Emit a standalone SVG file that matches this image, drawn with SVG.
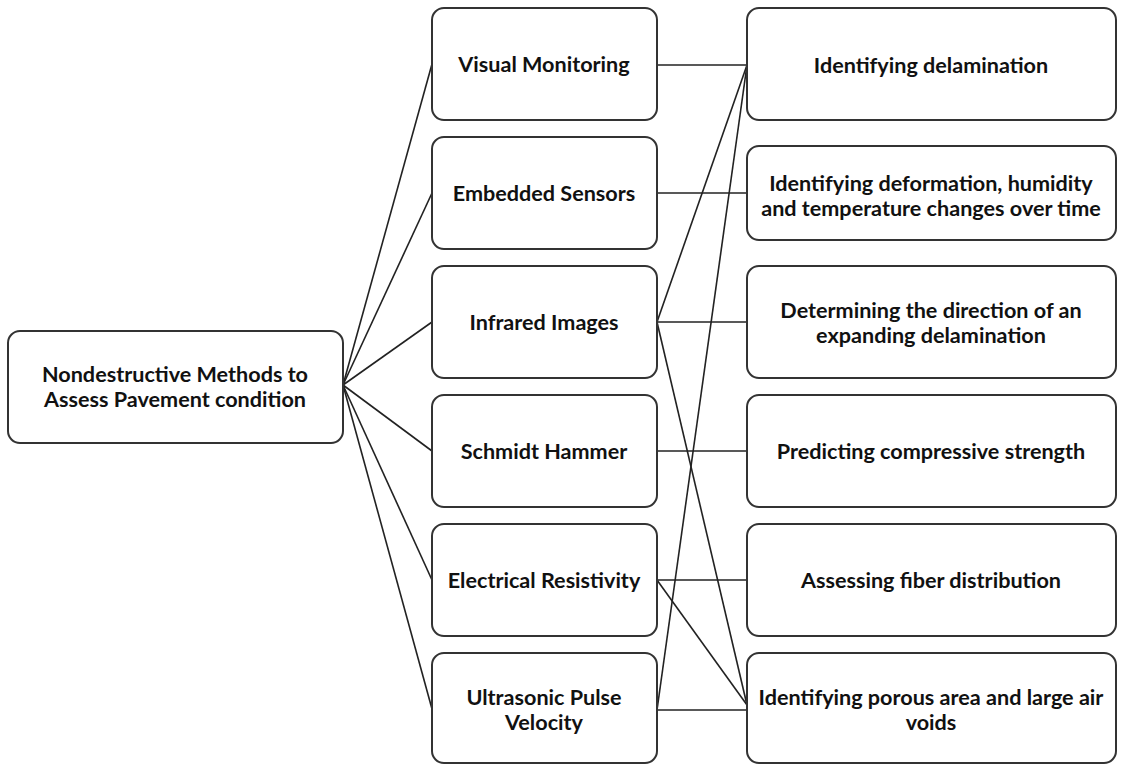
<svg xmlns="http://www.w3.org/2000/svg" width="1122" height="764" viewBox="0 0 1122 764">
<style>
.box{fill:#fff;stroke:#333;stroke-width:2}
.t{font-family:Lato,"Liberation Sans",sans-serif;font-weight:bold;font-size:21.6px;fill:#111;text-anchor:middle}
.c{stroke:#222;stroke-width:1.6;fill:none}
</style>
<rect width="1122" height="764" fill="#fff"/>
<g id="connectors">
<line class="c" x1="343" y1="385" x2="432" y2="64"/>
<line class="c" x1="343" y1="385" x2="432" y2="193"/>
<line class="c" x1="343" y1="385" x2="432" y2="322"/>
<line class="c" x1="343" y1="385" x2="432" y2="451"/>
<line class="c" x1="343" y1="385" x2="432" y2="580"/>
<line class="c" x1="343" y1="385" x2="432" y2="709"/>
<line class="c" x1="657" y1="65" x2="747" y2="65"/>
<line class="c" x1="657" y1="193" x2="747" y2="193"/>
<line class="c" x1="657" y1="322" x2="747" y2="322"/>
<line class="c" x1="657" y1="322" x2="747" y2="65"/>
<line class="c" x1="657" y1="322" x2="747" y2="705"/>
<line class="c" x1="657" y1="451" x2="747" y2="451"/>
<line class="c" x1="657" y1="580" x2="747" y2="580"/>
<line class="c" x1="657" y1="580" x2="747" y2="705"/>
<line class="c" x1="657" y1="710" x2="747" y2="710"/>
<line class="c" x1="657" y1="710" x2="747" y2="65"/>
</g>
<g id="root"><rect class="box" x="8" y="331" width="335" height="112" rx="12"/>
<text class="t" x="175" y="382">Nondestructive Methods to</text>
<text class="t" x="175" y="407">Assess Pavement condition</text></g>
<g id="m1"><rect class="box" x="432" y="8" width="225" height="112" rx="12"/><text class="t" x="544" y="72">Visual Monitoring</text></g>
<g id="m2"><rect class="box" x="432" y="137" width="225" height="112" rx="12"/><text class="t" x="544" y="201">Embedded Sensors</text></g>
<g id="m3"><rect class="box" x="432" y="266" width="225" height="112" rx="12"/><text class="t" x="544" y="330">Infrared Images</text></g>
<g id="m4"><rect class="box" x="432" y="395" width="225" height="112" rx="12"/><text class="t" x="544" y="459">Schmidt Hammer</text></g>
<g id="m5"><rect class="box" x="432" y="524" width="225" height="112" rx="12"/><text class="t" x="544" y="588">Electrical Resistivity</text></g>
<g id="m6"><rect class="box" x="432" y="653" width="225" height="110" rx="12"/><text class="t" x="544" y="705">Ultrasonic Pulse</text><text class="t" x="544" y="730">Velocity</text></g>
<g id="r1"><rect class="box" x="747" y="8" width="369" height="112" rx="12"/><text class="t" x="931" y="73">Identifying delamination</text></g>
<g id="r2"><rect class="box" x="747" y="146" width="369" height="94" rx="12"/><text class="t" x="931" y="191">Identifying deformation, humidity</text><text class="t" x="931" y="216">and temperature changes over time</text></g>
<g id="r3"><rect class="box" x="747" y="266" width="369" height="112" rx="12"/><text class="t" x="931" y="318">Determining the direction of an</text><text class="t" x="931" y="343">expanding delamination</text></g>
<g id="r4"><rect class="box" x="747" y="395" width="369" height="112" rx="12"/><text class="t" x="931" y="459">Predicting compressive strength</text></g>
<g id="r5"><rect class="box" x="747" y="524" width="369" height="112" rx="12"/><text class="t" x="931" y="588">Assessing fiber distribution</text></g>
<g id="r6"><rect class="box" x="747" y="653" width="369" height="110" rx="12"/><text class="t" x="931" y="705">Identifying porous area and large air</text><text class="t" x="931" y="730">voids</text></g>
</svg>
